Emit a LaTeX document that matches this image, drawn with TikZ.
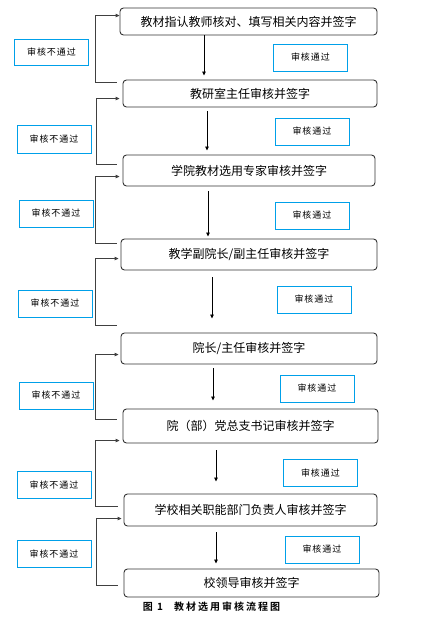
\documentclass[tikz,border=0pt]{standalone}
\usepackage{fontspec}
\setmainfont{Noto Sans CJK SC}
\newfontfamily\labelcjk[LetterSpace=11]{Noto Sans CJK SC}
\newfontfamily\captioncjk[LetterSpace=20]{Noto Sans CJK SC Bold}
\usepackage{xcolor}
\usepackage{tikz}
\usetikzlibrary{arrows.meta, positioning, calc}

\definecolor{passblue}{RGB}{0,160,233}
\definecolor{linegray}{RGB}{64,64,64}

\begin{document}
\begin{tikzpicture}[
    x=1pt, y=-1pt,
    stage/.style={rectangle, draw=black!80, line width=0.9pt, rounded corners=3.5pt, inner sep=2pt, font=\fontsize{12}{14}\selectfont},
    passlabel/.style={rectangle, draw=passblue, line width=0.9pt, minimum width=74pt, minimum height=27pt, inner sep=1pt, font=\labelcjk\fontsize{9}{10}\selectfont},
    faillabel/.style={passlabel},
    flow/.style={draw=black, line width=0.8pt, -{Triangle[length=4pt, width=3.5pt]}},
    back/.style={draw=linegray, line width=0.9pt, -{Triangle[length=4pt, width=3.5pt]}}
]
\useasboundingbox (0,0) rectangle (432,624);

% Stages
\node[stage, minimum width=257pt, minimum height=27pt] (b1) at (248.5,21.5) {教材指认教师核对、填写相关内容并签字};
\node[stage, minimum width=254pt, minimum height=27pt] (b2) at (250,93.5) {教研室主任审核并签字};
\node[stage, minimum width=252pt, minimum height=31pt] (b3) at (249,170.5) {学院教材选用专家审核并签字};
\node[stage, minimum width=256pt, minimum height=31pt] (b4) at (249,254.5) {教学副院长/副主任审核并签字};
\node[stage, minimum width=256pt, minimum height=31pt] (b5) at (249,348.5) {院长/主任审核并签字};
\node[stage, minimum width=255pt, minimum height=34pt] (b6) at (250.5,426) {院（部）党总支书记审核并签字};
\node[stage, minimum width=253pt, minimum height=32pt] (b7) at (250.5,510) {学校相关职能部门负责人审核并签字};
\node[stage, minimum width=255pt, minimum height=28pt] (b8) at (251.5,583) {校领导审核并签字};

% Pass labels
\node[passlabel] (p1) at (310.5,57.5) {审核通过};
\node[passlabel] (p2) at (312,131.5) {审核通过};
\node[passlabel] (p3) at (312,215.5) {审核通过};
\node[passlabel] (p4) at (314,299.5) {审核通过};
\node[passlabel] (p5) at (317,388.5) {审核通过};
\node[passlabel] (p6) at (320.5,473) {审核通过};
\node[passlabel] (p7) at (322,549.5) {审核通过};

% Fail labels
\node[faillabel, minimum height=26pt] (f1) at (51.5,52) {审核不通过};
\node[faillabel, minimum height=28pt] (f2) at (54,139) {审核不通过};
\node[faillabel] (f3) at (56,213.5) {审核不通过};
\node[faillabel] (f4) at (55,303.5) {审核不通过};
\node[faillabel] (f5) at (56,395.5) {审核不通过};
\node[faillabel] (f6) at (54,485) {审核不通过};
\node[faillabel] (f7) at (54,554) {审核不通过};

% Caption
\node[font=\captioncjk\fontsize{10}{12}\selectfont] (cap) at (211.5,607) {图 1\hspace{1.1em}教材选用审核流程图};

% Passing flow
\draw[flow, shorten >=4pt] ([xshift=-44.5pt]b1.south) -- ([xshift=-44.5pt]b1.south |- b2.north);
\draw[flow, shorten <=4pt, shorten >=4pt] ([xshift=-43pt]b2.south) -- ([xshift=-43pt]b2.south |- b3.north);
\draw[flow, shorten <=5pt, shorten >=2pt] ([xshift=-41pt]b3.south) -- ([xshift=-41pt]b3.south |- b4.north);
\draw[flow, shorten <=7pt, shorten >=14pt] ([xshift=-37pt]b4.south) -- ([xshift=-37pt]b4.south |- b5.north);
\draw[flow, shorten <=4pt, shorten >=8pt] ([xshift=-36pt]b5.south) -- ([xshift=-36pt]b5.south |- b6.north);
\draw[flow, shorten <=7pt, shorten >=12pt] ([xshift=-34.5pt]b6.south) -- ([xshift=-34.5pt]b6.south |- b7.north);
\draw[flow, shorten <=6pt, shorten >=5pt] ([xshift=-34.5pt]b7.south) -- ([xshift=-34.5pt]b7.south |- b8.north);

% Failing loops back
\draw[back] ([xshift=-6pt,yshift=-3pt]b2.north west) -- ++(-21,0) |- ([yshift=-8pt]b1.north west);
\draw[back, shorten >=3pt] ([xshift=-6pt,yshift=-10pt]b3.north west) -- ++(-20,0) |- ([yshift=-19pt]b2.north west);
\draw[back, shorten >=3pt] ([xshift=-4pt,yshift=-5pt]b4.north west) -- ++(-21,0) |- ([yshift=-22pt]b3.north west);
\draw[back, shorten >=2pt] ([xshift=-4pt,yshift=7pt]b5.north west) -- ++(-21,0) |- ([yshift=-20pt]b4.north west);
\draw[back, shorten >=2pt] ([xshift=-6pt,yshift=-11pt]b6.north west) -- ++(-21,0) |- ([yshift=-22pt]b5.north west);
\draw[back, shorten >=3pt] ([xshift=-6pt,yshift=-13pt]b7.north west) -- ++(-22,0) |- ([yshift=-32pt]b6.north west);
\draw[back, shorten >=2pt] ([xshift=-6pt,yshift=-17pt]b8.north west) -- ++(-21,0) |- ([yshift=-25pt]b7.north west);

\end{tikzpicture}
\end{document}
